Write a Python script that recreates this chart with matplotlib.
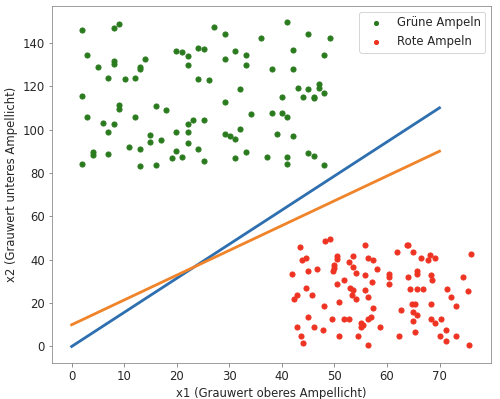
import matplotlib
matplotlib.use('Agg')
import matplotlib.pyplot as plt
import numpy as np

# green traffic lights (x1, x2)
green_x1 = [2.0, 8.0, 9.1, 3.0, 5.1, 8.0, 8.0, 7.0, 10.1, 12.0, 13.0, 13.0, 14.0, 19.9, 21.0, 22.1,
            22.1, 24.0, 24.0, 2.0, 9.1, 9.1, 3.0, 6.0, 8.0, 7.0, 12.0, 16.0, 18.0, 23.1, 22.1, 19.9,
            22.1, 15.0, 15.0, 17.0, 22.1, 11.0, 13.0, 24.0, 4.0, 4.0, 7.0, 19.9, 19.0, 21.0, 2.0,
            13.0, 16.0, 27.1, 29.1, 25.1, 31.1, 33.2, 29.1, 33.2, 36.1, 41.0, 45.0, 49.1, 42.1,
            48.1, 38.1, 42.1, 26.1, 32.1, 43.0, 45.0, 47.1, 47.1, 44.0, 46.1, 46.1, 48.1, 40.1,
            29.1, 34.1, 38.1, 40.1, 41.0, 25.1, 32.1, 29.1, 30.1, 31.1, 39.1, 42.1, 25.1, 31.1,
            33.2, 37.1, 41.0, 41.0, 45.0, 46.1, 48.1]
green_x2 = [145.9, 146.7, 148.5, 134.5, 128.9, 131.4, 130.2, 123.7, 123.3, 123.9, 128.9, 127.7,
            132.6, 136.3, 135.7, 133.9, 129.6, 137.7, 123.3, 115.6, 111.4, 109.6, 105.6, 103.1,
            102.5, 98.9, 105.6, 110.8, 109.0, 104.5, 102.6, 98.9, 98.9, 97.4, 94.3, 95.1, 93.7,
            92.0, 90.8, 90.8, 89.6, 88.3, 88.6, 90.2, 86.8, 87.4, 84.3, 83.1, 83.7, 147.3, 143.9,
            137.1, 136.3, 134.5, 132.6, 129.6, 142.1, 149.6, 143.9, 142.1, 136.7, 134.5, 127.7,
            127.7, 122.7, 118.5, 119.0, 118.5, 121.0, 119.1, 115.1, 115.1, 114.4, 116.9, 115.1,
            112.6, 107.0, 107.7, 107.6, 105.6, 104.5, 100.2, 98.0, 96.8, 95.6, 98.0, 96.8, 85.5,
            86.8, 89.6, 87.4, 87.4, 84.3, 89.0, 88.0, 83.7]

# red traffic lights (x1, x2)
red_x1 = [48.2, 49.1, 43.5, 55.9, 43.8, 44.5, 50.5, 50.5, 53.5, 56.4, 57.4, 52.7, 49.9, 49.9,
          46.7, 45.0, 49.7, 53.6, 58.1, 41.9, 54.1, 55.9, 51.8, 50.5, 57.1, 44.6, 52.9, 53.6,
          55.9, 42.8, 42.3, 45.8, 53.3, 54.2, 56.4, 50.9, 48.1, 57.4, 45.0, 49.5, 51.8, 52.7,
          56.4, 56.9, 55.0, 55.5, 55.0, 42.8, 46.1, 47.9, 58.6, 43.7, 44.0, 50.9, 54.5, 56.3,
          63.8, 64.1, 61.9, 64.9, 76.0, 66.4, 68.2, 67.9, 69.1, 60.4, 60.4, 60.4, 64.0, 65.8,
          65.8, 68.3, 68.5, 74.5, 64.3, 65.8, 66.8, 71.5, 75.4, 72.1, 64.8, 65.3, 68.3, 73.2,
          62.6, 64.9, 65.8, 68.3, 70.3, 69.1, 64.9, 71.3, 65.3, 62.3, 70.0, 73.1, 71.3, 75.6]
red_x2 = [48.8, 49.7, 45.7, 46.6, 39.8, 40.6, 41.7, 40.5, 41.9, 40.6, 39.7, 38.8, 37.4, 36.1,
          35.9, 34.6, 34.6, 36.8, 35.9, 33.6, 33.7, 32.8, 30.8, 28.8, 29.7, 26.8, 26.9, 25.9,
          25.9, 23.9, 21.8, 23.7, 23.5, 22.0, 22.8, 20.5, 18.8, 17.7, 13.7, 12.8, 12.8, 12.8,
          12.8, 13.7, 10.9, 9.7, 8.9, 8.9, 8.9, 7.5, 8.9, 4.8, 1.7, 4.6, 4.6, 0.8,
          46.6, 46.6, 43.7, 43.7, 42.8, 40.6, 42.0, 39.8, 40.6, 33.6, 32.0, 28.8, 31.9, 34.8,
          33.6, 32.8, 30.6, 31.9, 26.6, 26.6, 26.6, 26.6, 25.7, 22.6, 19.5, 19.5, 19.5, 18.8,
          16.6, 15.7, 14.5, 12.8, 12.8, 10.6, 11.7, 7.5, 6.6, 4.6, 4.6, 4.6, 2.6, 0.6]

# separating lines
line_x = [0, 70]
blue_y = [0, 110]
orange_y = [10, 90]

plt.rcParams['font.size'] = 11.6
plt.rcParams['text.color'] = '#262626'
plt.rcParams['axes.labelcolor'] = '#262626'
plt.rcParams['xtick.color'] = '#777777'
plt.rcParams['ytick.color'] = '#777777'
plt.rcParams['xtick.labelcolor'] = '#262626'
plt.rcParams['ytick.labelcolor'] = '#262626'

fig = plt.figure(figsize=(500 / 72, 399 / 72), dpi=72)
ax = fig.add_axes([0.1034, 0.091, 0.8786, 0.8947])

ax.scatter(green_x1, green_x2, s=26, color='#2a7a1e', label='Grüne Ampeln')
ax.scatter(red_x1, red_x2, s=26, color='#ee3322', label='Rote Ampeln')
ax.plot(line_x, blue_y, color='#2e6fb0', linewidth=2.8)
ax.plot(line_x, orange_y, color='#f0842a', linewidth=2.8)

for sp in ax.spines.values():
    sp.set_color('#888888')

ax.set_xticks(np.arange(0, 80, 10))
ax.set_yticks(np.arange(0, 160, 20))
ax.set_xlabel('x1 (Grauwert oberes Ampellicht)')
ax.set_ylabel('x2 (Grauwert unteres Ampellicht)')
ax.legend(loc='upper right', markerscale=0.8)

fig.savefig('out.png', dpi=72)
